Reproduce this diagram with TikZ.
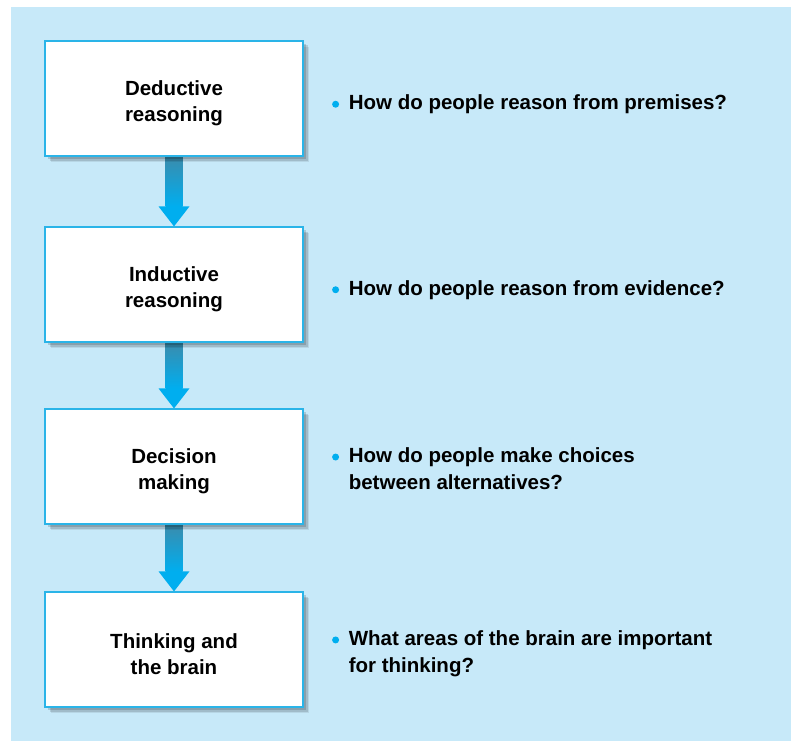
\documentclass[tikz,border=0pt]{standalone}
\usepackage{fontspec}
\setmainfont{Liberation Sans}
\usetikzlibrary{positioning, calc, shadows, backgrounds}
\usepackage{xcolor}

\definecolor{panelblue}{HTML}{C7E9F9}
\definecolor{boxline}{HTML}{2AB4E8}
\definecolor{arrowblue}{HTML}{00AEEF}
\definecolor{shafttop}{HTML}{3A8CAD}

\newcommand{\flowarrow}[2]{%
  \shade[top color=shafttop, middle color=arrowblue, bottom color=arrowblue]
    ($(#1.south)+(-8.5,0)$) rectangle ($(#2.north)+(8.5,-20)$);
  \fill[arrowblue] ($(#2.north)+(-15.5,-20)$) -- ($(#2.north)+(15.5,-20)$) -- (#2.north) -- cycle;
}

\begin{document}
\begin{tikzpicture}[x=1pt, y=-1pt,
    stage/.style={draw=boxline, line width=1.2pt, fill=white, minimum width=258pt,
      minimum height=115pt, inner sep=0pt,
      drop shadow={shadow xshift=6pt, shadow yshift=-6pt, opacity=0.08, fill=black},
      drop shadow={shadow xshift=4.5pt, shadow yshift=-4.5pt, opacity=0.12, fill=black},
      drop shadow={shadow xshift=3pt, shadow yshift=-3pt, opacity=0.15, fill=black}},
    stagetext/.style={align=center, yshift=-5pt,
      font=\fontsize{20.5}{26}\selectfont\bfseries},
    question/.style={anchor=west, align=left, inner sep=0pt,
      font=\fontsize{20.5}{26.5}\selectfont\bfseries},
    dot/.style={circle, fill=arrowblue, inner sep=0pt, minimum size=7pt}]
  \useasboundingbox (0,0) rectangle (791,741);

  % stages
  \node[stage, label={[stagetext]center:{Deductive\\reasoning}}] (deduct) at (174, 98.5) {};
  \node[stage, label={[stagetext]center:{Inductive\\reasoning}}] (induct) at (174, 284.5) {};
  \node[stage, label={[stagetext]center:{Decision\\making}}] (decide) at (174, 466.5) {};
  \node[stage, label={[stagetext]center:{Thinking and\\the brain}}] (brain) at (174, 649.5) {};

  % questions
  \node[question, right=45pt of deduct, yshift=-6pt] (q1) {How do people reason from premises?};
  \node[question, right=45pt of induct, yshift=-5.5pt] (q2) {How do people reason from evidence?};
  \node[question, right=45pt of decide, yshift=-2pt] (q3) {How do people make choices\\between alternatives?};
  \node[question, right=45pt of brain, yshift=-4pt] (q4) {What areas of the brain are important\\for thinking?};

  \node[dot] (d1) at ($(q1.north west)+(-13, 9.5)$) {};
  \node[dot] (d2) at ($(q2.north west)+(-13, 9.5)$) {};
  \node[dot] (d3) at ($(q3.north west)+(-13, 9.5)$) {};
  \node[dot] (d4) at ($(q4.north west)+(-13, 9.5)$) {};

  \begin{pgfonlayer}{background}
    \fill[panelblue] (11,7) rectangle (791,741);
    \flowarrow{deduct}{induct}
    \flowarrow{induct}{decide}
    \flowarrow{decide}{brain}
  \end{pgfonlayer}
\end{tikzpicture}
\end{document}
